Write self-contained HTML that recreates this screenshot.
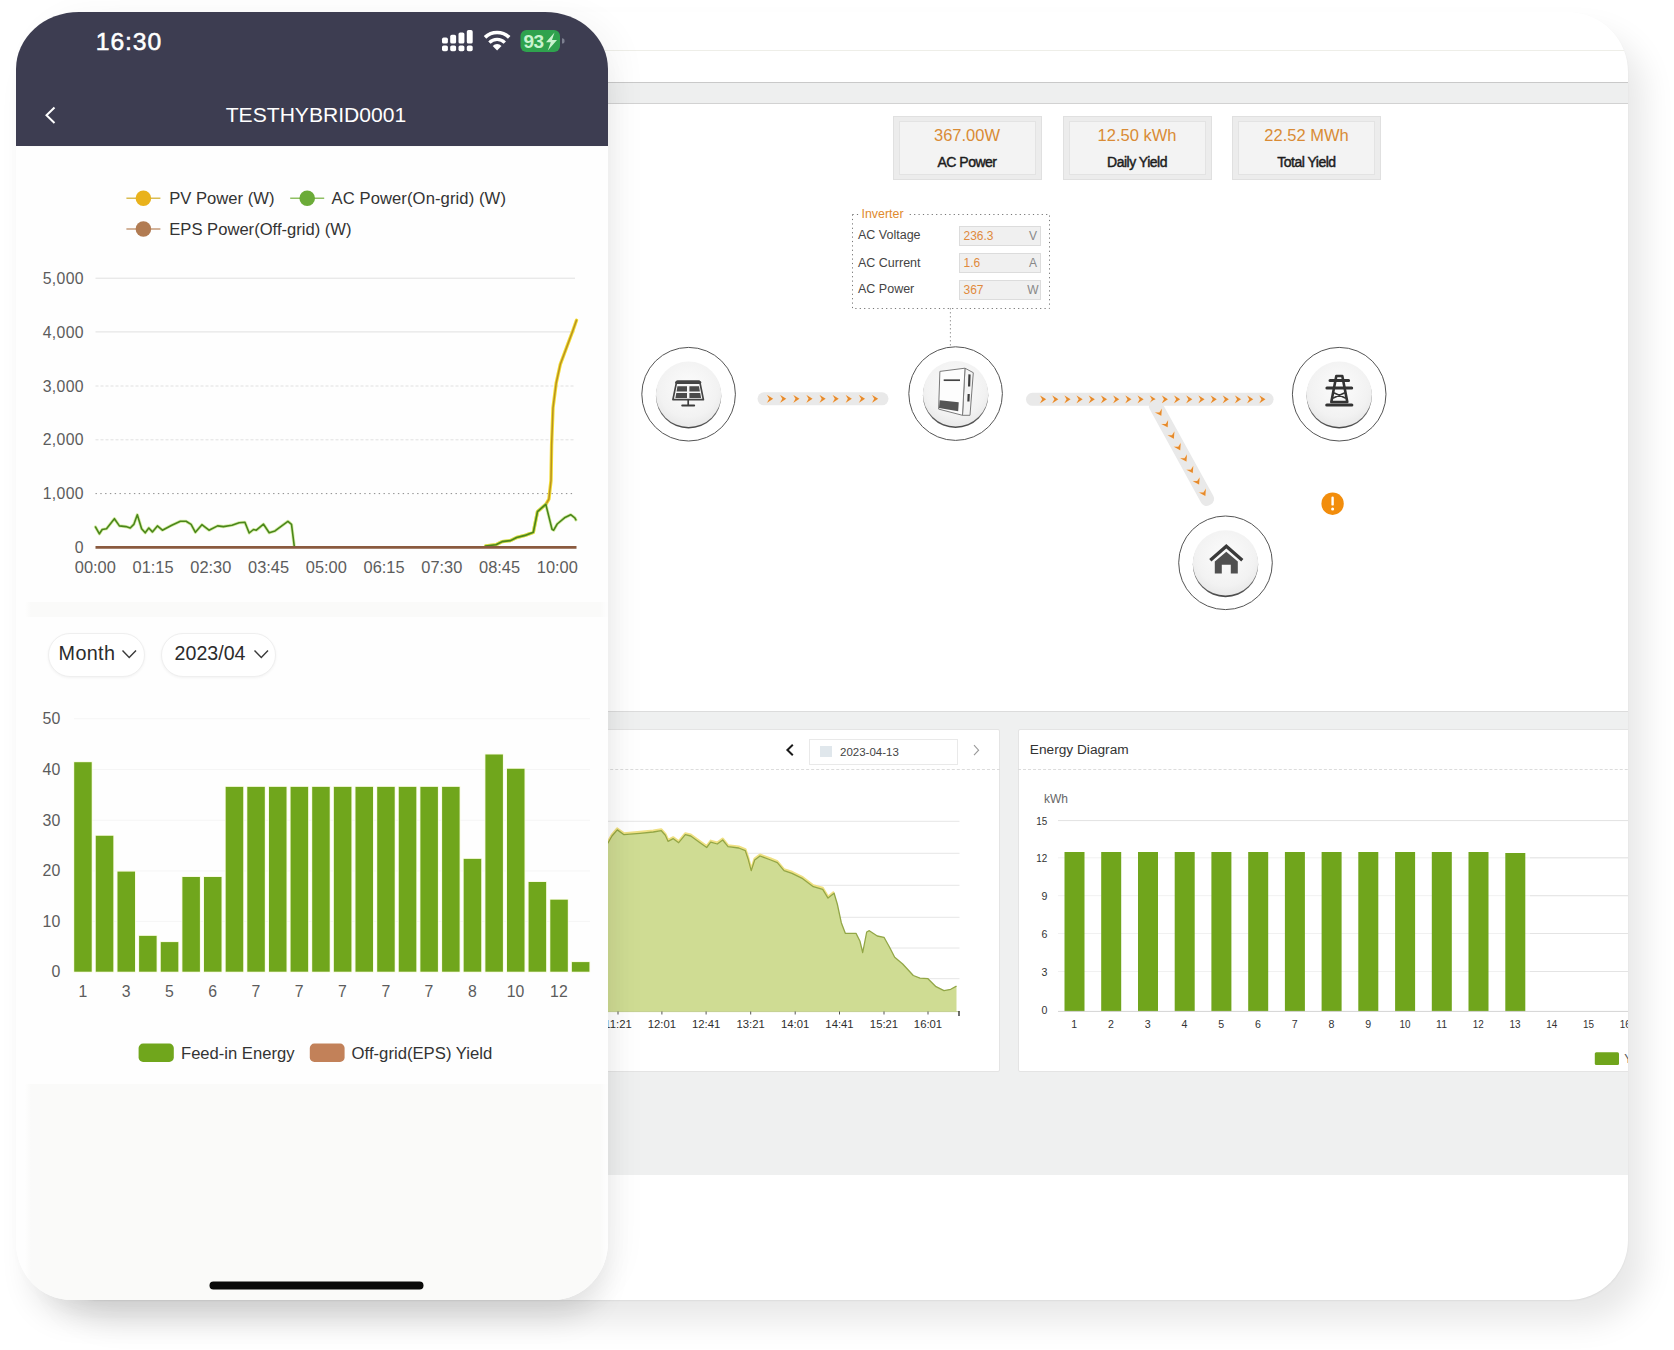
<!DOCTYPE html><html><head><meta charset="utf-8"><title>dashboard</title><style>
*{box-sizing:border-box;margin:0;padding:0}
html,body{width:1674px;height:1350px;background:#fff;overflow:hidden}
body{position:relative;font-family:"Liberation Sans",sans-serif;color:#333}
.abs{position:absolute}
.t{position:absolute;white-space:nowrap;line-height:1}
.desk{position:absolute;left:40px;top:12px;width:1588px;height:1288px;border-radius:60px;background:#fff;
 box-shadow:16px 22px 32px rgba(0,0,0,.095),0 1px 2px rgba(0,0,0,.06);overflow:hidden}
.phone{position:absolute;left:16px;top:12px;width:592px;height:1288px;border-radius:63px 63px 55px 55px / 57px 57px 58px 58px;background:linear-gradient(90deg,#fefefe 0,#fefefe 9px,#fafaf9 15px,#fafaf9 584px,#fdfdfd 590px);
 box-shadow:4px 28px 30px -10px rgba(0,0,0,.10),14px 0 30px rgba(0,0,0,.035);overflow:hidden}
.hdr{position:absolute;left:0;top:0;width:592px;height:134.4px;background:#3d3d51}
.card1{position:absolute;left:0;top:134.5px;width:592px;height:455px;background:#fefefe}
.card2{position:absolute;left:0;top:604.8px;width:592px;height:467.5px;background:#fefefe}
.pill{position:absolute;height:44px;border-radius:22px;background:#fff;border:1px solid #efefef;box-shadow:0 1px 3px rgba(0,0,0,.05)}
.stat{position:absolute;top:104px;width:149px;height:63.5px;background:#ececec;border:1px solid #e0e0e0}
.stat i{position:absolute;left:5px;top:4px;right:5px;bottom:4px;border:1px solid #e3e3e3;background:#f3f3f3}
.stat b{position:absolute;left:0;width:100%;text-align:center;font-weight:normal;line-height:1}
.stat b.v{top:10px;font-size:16.5px;color:#d98b35}
.stat b.l{top:38px;font-size:14px;color:#1c1c1c;font-weight:normal;letter-spacing:-.5px;-webkit-text-stroke:.45px #1c1c1c}
.vbox{position:absolute;width:82.6px;height:20.5px;background:#f0f0f0;border:1px solid #dcdcdc}
.panel{position:absolute;top:717.3px;height:343.2px;border-radius:2px;background:#fff;border:1px solid #e4e4e4}
</style></head><body><div class="desk"><div class="abs" style="left:0;top:37.5px;width:1588px;height:1px;background:#eeeee8"></div><div class="abs" style="left:0;top:70px;width:1588px;height:21.5px;background:#eeefef;border-top:1px solid #c9c9c9;border-bottom:1px solid #d2d2d2"></div><div class="stat" style="left:852.5px"><i></i><b class="v">367.00W</b><b class="l">AC Power</b></div><div class="stat" style="left:1022.5px"><i></i><b class="v">12.50 kWh</b><b class="l">Daily Yield</b></div><div class="stat" style="left:1192px"><i></i><b class="v">22.52 MWh</b><b class="l">Total Yield</b></div><svg class="abs" style="left:811.5px;top:201.5px" width="200" height="97"><rect x=".5" y=".5" width="197" height="94" fill="none" stroke="#777" stroke-width="1" stroke-dasharray="1.2 3.2"/></svg><div class="t" style="left:818.5px;top:196.3px;font-size:12.4px;color:#e08a2e;background:#fff;padding:0 3px">Inverter</div><div class="t" style="left:818px;top:217.2px;font-size:12.5px;color:#444">AC Voltage</div><div class="vbox" style="left:918.8px;top:213.5px"></div><div class="t" style="left:923.5px;top:217.7px;font-size:12px;color:#e08a3c">236.3</div><div class="t" style="left:986px;top:217.7px;font-size:12px;color:#888;width:14px;text-align:center">V</div><div class="t" style="left:818px;top:244.5px;font-size:12.5px;color:#444">AC Current</div><div class="vbox" style="left:918.8px;top:240.8px"></div><div class="t" style="left:923.5px;top:245px;font-size:12px;color:#e08a3c">1.6</div><div class="t" style="left:986px;top:245px;font-size:12px;color:#888;width:14px;text-align:center">A</div><div class="t" style="left:818px;top:271.2px;font-size:12.5px;color:#444">AC Power</div><div class="vbox" style="left:918.8px;top:267.5px"></div><div class="t" style="left:923.5px;top:271.7px;font-size:12px;color:#e08a3c">367</div><div class="t" style="left:986px;top:271.7px;font-size:12px;color:#888;width:14px;text-align:center">W</div><svg class="abs" style="left:580px;top:288px" width="1000" height="420" viewBox="620 300 1000 420"><defs>
<radialGradient id="btn" cx="50%" cy="40%" r="60%"><stop offset="0" stop-color="#fcfcfc"/><stop offset=".75" stop-color="#f2f2f2"/><stop offset="1" stop-color="#e9e9e9"/></radialGradient>
<linearGradient id="shade" x1="0" y1="0" x2="0" y2="1"><stop offset="0" stop-color="#bdbdbd"/><stop offset="1" stop-color="#4a4a4a"/></linearGradient>
<g id="chev"><path d="M-4.4 -4.6 L3.4 0 L-4.4 4.6 L-2 0 Z" fill="#fbe3c8"/><path d="M-3.4 -3.9 L2.6 0 L-3.4 3.9 L-1.3 0 Z" fill="#e58a2c"/></g>
</defs><line x1="950.4" y1="308" x2="950.4" y2="346" stroke="#9a9a9a" stroke-width="1" stroke-dasharray="1.5 2.5"/><rect x="757.5" y="392.3" width="131" height="13" rx="6.5" fill="#e9e9e9"/><use href="#chev" x="770.5" y="398.8"/><use href="#chev" x="783.6" y="398.8"/><use href="#chev" x="796.8" y="398.8"/><use href="#chev" x="809.9" y="398.8"/><use href="#chev" x="823" y="398.8"/><use href="#chev" x="836.1" y="398.8"/><use href="#chev" x="849.2" y="398.8"/><use href="#chev" x="862.4" y="398.8"/><use href="#chev" x="875.5" y="398.8"/><rect x="1026" y="392.8" width="247.6" height="13" rx="6.5" fill="#e9e9e9"/><use href="#chev" x="1043.5" y="399.3"/><use href="#chev" x="1055.7" y="399.3"/><use href="#chev" x="1067.9" y="399.3"/><use href="#chev" x="1080" y="399.3"/><use href="#chev" x="1092.2" y="399.3"/><use href="#chev" x="1104.4" y="399.3"/><use href="#chev" x="1116.6" y="399.3"/><use href="#chev" x="1128.8" y="399.3"/><use href="#chev" x="1141" y="399.3"/><use href="#chev" x="1153.2" y="399.3"/><use href="#chev" x="1165.3" y="399.3"/><use href="#chev" x="1177.5" y="399.3"/><use href="#chev" x="1189.7" y="399.3"/><use href="#chev" x="1201.9" y="399.3"/><use href="#chev" x="1214.1" y="399.3"/><use href="#chev" x="1226.2" y="399.3"/><use href="#chev" x="1238.4" y="399.3"/><use href="#chev" x="1250.6" y="399.3"/><use href="#chev" x="1262.8" y="399.3"/><g transform="translate(1154.8 404) rotate(61.2)"><rect x="-4" y="-7" width="118.9" height="14" rx="6" fill="#e9e9e9"/><use href="#chev" x="10.9" y="0"/><use href="#chev" x="24" y="0"/><use href="#chev" x="37" y="0"/><use href="#chev" x="50.1" y="0"/><use href="#chev" x="63.1" y="0"/><use href="#chev" x="76.2" y="0"/><use href="#chev" x="89.3" y="0"/><use href="#chev" x="102.3" y="0"/></g><circle cx="688.6" cy="394.2" r="46.8" fill="#fff" stroke="#555" stroke-width="1"/><circle cx="688.6" cy="395.9" r="32.7" fill="url(#shade)"/><circle cx="688.6" cy="394.3" r="32.7" fill="url(#btn)"/><circle cx="955.6" cy="393.6" r="46.8" fill="#fff" stroke="#555" stroke-width="1"/><circle cx="955.6" cy="395.3" r="32.7" fill="url(#shade)"/><circle cx="955.6" cy="393.7" r="32.7" fill="url(#btn)"/><circle cx="1339.2" cy="394.2" r="46.8" fill="#fff" stroke="#555" stroke-width="1"/><circle cx="1339.2" cy="395.9" r="32.7" fill="url(#shade)"/><circle cx="1339.2" cy="394.3" r="32.7" fill="url(#btn)"/><circle cx="1225.5" cy="562.8" r="46.8" fill="#fff" stroke="#555" stroke-width="1"/><circle cx="1225.5" cy="564.5" r="32.7" fill="url(#shade)"/><circle cx="1225.5" cy="562.9" r="32.7" fill="url(#btn)"/><g stroke-linejoin="round" stroke-linecap="round">
<path d="M676.6 381.9 Q676.9 381.2 677.8 381.2 H698.6 Q699.5 381.2 699.8 381.9 L703.4 399.6 H672.9 Z" fill="#f6f6f6" stroke="#444" stroke-width="1.7"/>
<path d="M676.4 382.6 H700" stroke="#444" stroke-width="2.6" fill="none"/>
<path d="M677.4 386.3 H687 V391.4 H676.6 Z M689.4 386.3 H699 L699.9 391.4 H689.4 Z M676.3 392.9 H687 V398.1 H675.4 Z M689.4 392.9 H700.2 L701.1 398.1 H689.4 Z" fill="#4a4a4a" stroke="none"/>
<path d="M688.2 399.8 V405" stroke="#3c3c3c" stroke-width="1.7" fill="none"/>
<path d="M682.2 405.5 H694.2" stroke="#3c3c3c" stroke-width="1.9" fill="none"/>
</g><g transform="translate(955.6 393.6)" stroke-linejoin="round">
<path d="M9.4 -25.4 L17.7 -20.9 L14.4 21.7 L6.9 21.7 Z" fill="#f4f4f4" stroke="#7a7a7a" stroke-width="1"/>
<path d="M-15.7 -22.2 L9.4 -25.4 L6.9 21.7 L-17 15.5 Z" fill="#fdfdfd" stroke="#7a7a7a" stroke-width="1"/>
<path d="M-15.9 6.7 L3.1 8.7 L2.6 17.6 L-16.6 14.4 Z" fill="#555"/>
<path d="M-11.9 -13.4 H4.4" stroke="#444" stroke-width="1.7"/>
<path d="M13.9 -19.2 L13.5 -7.1 M13.1 0.4 L12.8 7.9" stroke="#3c3c3c" stroke-width="2.2"/>
</g><g transform="translate(1339.3 391)" fill="none" stroke="#333" stroke-width="2.6" stroke-linejoin="round" stroke-linecap="round">
<path d="M-3 -15 H3 L8 11 H-8 Z"/>
<path d="M-9.3 -10.6 H9.3 M-12.4 -3 H12.4" stroke-width="3"/>
<path d="M-5 2 L6 7 M5 2 L-6 7" stroke-width="1.6"/>
<path d="M-12.5 14 H12.5" stroke-width="3.2"/>
</g><g transform="translate(1226.3 560)">
<path d="M-16 0.3 L0 -13.8 L16 0.3" fill="none" stroke="#3a3a3a" stroke-width="3.3" stroke-linejoin="miter"/>
<path d="M-11.5 1.6 L0 -8.2 L11.5 1.6 V13.5 H4.5 V4.8 H-4.5 V13.5 H-11.5 Z" fill="#505050"/>
</g><circle cx="1332.6" cy="503.7" r="11.2" fill="#f28d0c"/><rect x="1331.4" y="496.6" width="2.4" height="9" rx="1.2" fill="#fff"/><circle cx="1332.6" cy="509" r="1.5" fill="#fff"/></svg><div class="abs" style="left:0;top:699px;width:1588px;height:464px;background:#eff0f0;border-top:1px solid #dcdcdc"></div><div class="panel" style="left:520px;width:439.5px"></div><div class="panel" style="left:978px;width:700px"></div><div class="abs" style="left:520px;top:757.3px;width:439.5px;border-top:1px dashed #dcdcdc"></div><div class="abs" style="left:978px;top:757.3px;width:700px;border-top:1px dashed #dcdcdc"></div><div class="t" style="left:989.8px;top:731px;font-size:13.7px;color:#333">Energy Diagram</div><div class="abs" style="left:769.3px;top:726.7px;width:148.6px;height:26.6px;border:1px solid #e9e9e9;background:#fff"></div><div class="abs" style="left:780.2px;top:734.2px;width:11.5px;height:10.8px;background:#e0e7ec"></div><div class="t" style="left:800px;top:734.6px;font-size:11.5px;color:#444">2023-04-13</div><svg class="abs" style="left:560px;top:708px" width="1100" height="380" viewBox="600 720 1100 380" font-family="Liberation Sans, sans-serif"><path d="M792.8 744.7 L787.4 750 L792.8 755.3" stroke="#1a1a1a" stroke-width="2" fill="none"/><path d="M974 745.2 L978.6 750.2 L974 755.2" stroke="#999" stroke-width="1.1" fill="none"/><line x1="600" y1="821.3" x2="959.5" y2="821.3" stroke="#e6e6e6" stroke-width="1"/><line x1="600" y1="853.3" x2="959.5" y2="853.3" stroke="#e6e6e6" stroke-width="1"/><line x1="600" y1="885.3" x2="959.5" y2="885.3" stroke="#e6e6e6" stroke-width="1"/><line x1="600" y1="917.3" x2="959.5" y2="917.3" stroke="#e6e6e6" stroke-width="1"/><line x1="600" y1="948" x2="959.5" y2="948" stroke="#e6e6e6" stroke-width="1"/><line x1="600" y1="978.7" x2="959.5" y2="978.7" stroke="#e6e6e6" stroke-width="1"/><polygon points="600,846 608,843 612,836 617.3,829.9 624,834.7 640,833.3 653.3,832 661.3,830.7 665.3,835.2 668,841.3 673.3,838.7 678.7,842.7 685.3,834.7 690.7,836 700,842.7 706.7,847.5 710.7,842.1 717.3,844 722.7,840 728,846.7 738.7,848 745.3,850.7 748,858.7 751.2,870.7 754.7,860 760,856 770.7,860 777.3,862.7 784,870.7 792,873.3 802.7,878.7 813.3,886.7 822.7,889.3 828,898.1 834.1,893.3 837.3,904 841.3,922.7 845.3,933.3 856,933.3 860,941.3 862.7,952.5 866.7,932 869.3,930.7 877.3,936 884,937.3 889.3,946.7 894.7,957.3 902.7,964 913.3,975.5 920,978.1 928,978.7 936,986.7 944,990.7 950.7,989.3 956.5,986.1 956.5,1011.4 600,1011.4" fill="#cfdc93"/><polyline points="600,844.8 608,841.8 612,834.8 617.3,828.7 624,833.5 640,832.1 653.3,830.8 661.3,829.5 665.3,834 668,840.1 673.3,837.5 678.7,841.5 685.3,833.5 690.7,834.8 700,841.5 706.7,846.3 710.7,840.9 717.3,842.8 722.7,838.8 728,845.5 738.7,846.8 745.3,849.5 748,857.5 751.2,869.5 754.7,858.8 760,854.8 770.7,858.8 777.3,861.5 784,869.5 792,872.1 802.7,877.5 813.3,885.5 822.7,888.1 828,896.9 834.1,892.1" fill="none" stroke="#f0e184" stroke-width="2.6" stroke-linejoin="round"/><polyline points="600,846 608,843 612,836 617.3,829.9 624,834.7 640,833.3 653.3,832 661.3,830.7 665.3,835.2 668,841.3 673.3,838.7 678.7,842.7 685.3,834.7 690.7,836 700,842.7 706.7,847.5 710.7,842.1 717.3,844 722.7,840 728,846.7 738.7,848 745.3,850.7 748,858.7 751.2,870.7 754.7,860 760,856 770.7,860 777.3,862.7 784,870.7 792,873.3 802.7,878.7 813.3,886.7 822.7,889.3 828,898.1 834.1,893.3 837.3,904 841.3,922.7 845.3,933.3 856,933.3 860,941.3 862.7,952.5 866.7,932 869.3,930.7 877.3,936 884,937.3 889.3,946.7 894.7,957.3 902.7,964 913.3,975.5 920,978.1 928,978.7 936,986.7 944,990.7 950.7,989.3 956.5,986.1" fill="none" stroke="#92a646" stroke-width="1.3" stroke-linejoin="round"/><line x1="600" y1="1011.6" x2="959.5" y2="1011.6" stroke="#c3cf8f" stroke-width="1"/><line x1="959" y1="1011" x2="959" y2="1016" stroke="#333" stroke-width="1.4"/><text x="618" y="1028" font-size="11.3" fill="#2e2e2e" text-anchor="middle">11:21</text><line x1="618" y1="1011.5" x2="618" y2="1014.5" stroke="#555" stroke-width="1"/><text x="661.9" y="1028" font-size="11.3" fill="#2e2e2e" text-anchor="middle">12:01</text><line x1="661.9" y1="1011.5" x2="661.9" y2="1014.5" stroke="#555" stroke-width="1"/><text x="706.1" y="1028" font-size="11.3" fill="#2e2e2e" text-anchor="middle">12:41</text><line x1="706.1" y1="1011.5" x2="706.1" y2="1014.5" stroke="#555" stroke-width="1"/><text x="750.7" y="1028" font-size="11.3" fill="#2e2e2e" text-anchor="middle">13:21</text><line x1="750.7" y1="1011.5" x2="750.7" y2="1014.5" stroke="#555" stroke-width="1"/><text x="795.2" y="1028" font-size="11.3" fill="#2e2e2e" text-anchor="middle">14:01</text><line x1="795.2" y1="1011.5" x2="795.2" y2="1014.5" stroke="#555" stroke-width="1"/><text x="839.5" y="1028" font-size="11.3" fill="#2e2e2e" text-anchor="middle">14:41</text><line x1="839.5" y1="1011.5" x2="839.5" y2="1014.5" stroke="#555" stroke-width="1"/><text x="884" y="1028" font-size="11.3" fill="#2e2e2e" text-anchor="middle">15:21</text><line x1="884" y1="1011.5" x2="884" y2="1014.5" stroke="#555" stroke-width="1"/><text x="928" y="1028" font-size="11.3" fill="#2e2e2e" text-anchor="middle">16:01</text><line x1="928" y1="1011.5" x2="928" y2="1014.5" stroke="#555" stroke-width="1"/><text x="1044" y="803.3" font-size="12" fill="#666">kWh</text><line x1="1058" y1="820.6" x2="1700" y2="820.6" stroke="#e2e2e2" stroke-width="1"/><text x="1047.3" y="824.8" font-size="11.8" fill="#333" text-anchor="end" textLength="11" lengthAdjust="spacingAndGlyphs">15</text><line x1="1058" y1="857.8" x2="1700" y2="857.8" stroke="#f1f1f1" stroke-width="1"/><line x1="1530" y1="857.8" x2="1700" y2="857.8" stroke="#e4e4e4" stroke-width="1"/><text x="1047.3" y="862" font-size="11.8" fill="#333" text-anchor="end" textLength="11" lengthAdjust="spacingAndGlyphs">12</text><line x1="1058" y1="895.7" x2="1700" y2="895.7" stroke="#f1f1f1" stroke-width="1"/><line x1="1530" y1="895.7" x2="1700" y2="895.7" stroke="#e4e4e4" stroke-width="1"/><text x="1047.3" y="899.9" font-size="11.8" fill="#333" text-anchor="end" textLength="5.9" lengthAdjust="spacingAndGlyphs">9</text><line x1="1058" y1="933.5" x2="1700" y2="933.5" stroke="#f1f1f1" stroke-width="1"/><line x1="1530" y1="933.5" x2="1700" y2="933.5" stroke="#e4e4e4" stroke-width="1"/><text x="1047.3" y="937.7" font-size="11.8" fill="#333" text-anchor="end" textLength="5.9" lengthAdjust="spacingAndGlyphs">6</text><line x1="1058" y1="971.5" x2="1700" y2="971.5" stroke="#f1f1f1" stroke-width="1"/><line x1="1530" y1="971.5" x2="1700" y2="971.5" stroke="#e4e4e4" stroke-width="1"/><text x="1047.3" y="975.7" font-size="11.8" fill="#333" text-anchor="end" textLength="5.9" lengthAdjust="spacingAndGlyphs">3</text><text x="1047.3" y="1014.1" font-size="11.8" fill="#333" text-anchor="end" textLength="5.9" lengthAdjust="spacingAndGlyphs">0</text><rect x="1064.5" y="852" width="20" height="159.5" fill="#70a51c"/><rect x="1101.2" y="852" width="20" height="159.5" fill="#70a51c"/><rect x="1138" y="852" width="20" height="159.5" fill="#70a51c"/><rect x="1174.7" y="852" width="20" height="159.5" fill="#70a51c"/><rect x="1211.4" y="852" width="20" height="159.5" fill="#70a51c"/><rect x="1248.2" y="852" width="20" height="159.5" fill="#70a51c"/><rect x="1284.9" y="852" width="20" height="159.5" fill="#70a51c"/><rect x="1321.6" y="852" width="20" height="159.5" fill="#70a51c"/><rect x="1358.3" y="852" width="20" height="159.5" fill="#70a51c"/><rect x="1395.1" y="852" width="20" height="159.5" fill="#70a51c"/><rect x="1431.8" y="852" width="20" height="159.5" fill="#70a51c"/><rect x="1468.5" y="852" width="20" height="159.5" fill="#70a51c"/><rect x="1505.3" y="853" width="20" height="158.5" fill="#70a51c"/><text x="1074.3" y="1028.2" font-size="11.8" fill="#333" text-anchor="middle" textLength="5.9" lengthAdjust="spacingAndGlyphs">1</text><text x="1111" y="1028.2" font-size="11.8" fill="#333" text-anchor="middle" textLength="5.9" lengthAdjust="spacingAndGlyphs">2</text><text x="1147.8" y="1028.2" font-size="11.8" fill="#333" text-anchor="middle" textLength="5.9" lengthAdjust="spacingAndGlyphs">3</text><text x="1184.5" y="1028.2" font-size="11.8" fill="#333" text-anchor="middle" textLength="5.9" lengthAdjust="spacingAndGlyphs">4</text><text x="1221.2" y="1028.2" font-size="11.8" fill="#333" text-anchor="middle" textLength="5.9" lengthAdjust="spacingAndGlyphs">5</text><text x="1257.9" y="1028.2" font-size="11.8" fill="#333" text-anchor="middle" textLength="5.9" lengthAdjust="spacingAndGlyphs">6</text><text x="1294.7" y="1028.2" font-size="11.8" fill="#333" text-anchor="middle" textLength="5.9" lengthAdjust="spacingAndGlyphs">7</text><text x="1331.4" y="1028.2" font-size="11.8" fill="#333" text-anchor="middle" textLength="5.9" lengthAdjust="spacingAndGlyphs">8</text><text x="1368.1" y="1028.2" font-size="11.8" fill="#333" text-anchor="middle" textLength="5.9" lengthAdjust="spacingAndGlyphs">9</text><text x="1404.9" y="1028.2" font-size="11.8" fill="#333" text-anchor="middle" textLength="11" lengthAdjust="spacingAndGlyphs">10</text><text x="1441.6" y="1028.2" font-size="11.8" fill="#333" text-anchor="middle" textLength="11" lengthAdjust="spacingAndGlyphs">11</text><text x="1478.3" y="1028.2" font-size="11.8" fill="#333" text-anchor="middle" textLength="11" lengthAdjust="spacingAndGlyphs">12</text><text x="1515.1" y="1028.2" font-size="11.8" fill="#333" text-anchor="middle" textLength="11" lengthAdjust="spacingAndGlyphs">13</text><text x="1551.8" y="1028.2" font-size="11.8" fill="#333" text-anchor="middle" textLength="11" lengthAdjust="spacingAndGlyphs">14</text><text x="1588.5" y="1028.2" font-size="11.8" fill="#333" text-anchor="middle" textLength="11" lengthAdjust="spacingAndGlyphs">15</text><text x="1625.2" y="1028.2" font-size="11.8" fill="#333" text-anchor="middle" textLength="11" lengthAdjust="spacingAndGlyphs">16</text><line x1="1058" y1="1011.4" x2="1700" y2="1011.4" stroke="#d4d4d4" stroke-width="1"/><rect x="1594.8" y="1052.3" width="24.2" height="12.8" rx="1.5" fill="#70a51c"/><text x="1624.3" y="1063" font-size="12" fill="#555">Yield</text></svg></div><div class="phone"><div class="hdr"></div><div class="card1"></div><div class="card2"></div><div class="t" style="left:79.8px;top:17.9px;font-size:24.7px;color:#fff;letter-spacing:.9px;-webkit-text-stroke:.55px #fff">16:30</div><div class="t" style="left:0;top:91.7px;width:592px;text-align:center;font-size:21.1px;color:#fff;padding-left:8px">TESTHYBRID0001</div><div class="pill" style="left:32px;top:620.5px;width:97px"></div><div class="pill" style="left:145px;top:620.5px;width:115px"></div><svg class="abs" style="left:0;top:0" width="592" height="1288" viewBox="16 12 592 1288" font-family="Liberation Sans, sans-serif"><path d="M54.5 107.5 L46.5 115.3 L54.5 123" fill="none" stroke="#fff" stroke-width="2"/><rect x="442" y="45.4" width="5.9" height="5.8" rx="1.7" fill="#fff"/><rect x="442" y="37.6" width="5.9" height="6" rx="1.7" fill="#fff"/><rect x="450.2" y="45.4" width="5.9" height="5.8" rx="1.7" fill="#fff"/><rect x="450.2" y="34.8" width="5.9" height="8.8" rx="1.7" fill="#fff"/><rect x="458.5" y="45.4" width="5.9" height="5.8" rx="1.7" fill="#fff"/><rect x="458.5" y="32.4" width="5.9" height="11.2" rx="1.7" fill="#fff"/><rect x="466.8" y="45.4" width="5.9" height="5.8" rx="1.7" fill="#fff"/><rect x="466.8" y="30" width="5.9" height="13.6" rx="1.7" fill="#fff"/><g fill="none" stroke="#fff" stroke-linecap="butt"><path d="M485 37.4 A17.4 17.4 0 0 1 509.2 37.4" stroke-width="3.6"/><path d="M489.4 42.6 A10.8 10.8 0 0 1 504.8 42.6" stroke-width="3.3"/></g><path d="M497.1 50.4 L492.7 45.9 A6.2 6.2 0 0 1 501.5 45.9 Z" fill="#fff"/><rect x="520.5" y="30" width="39.5" height="22" rx="6" fill="#2fa24e"/><path d="M562 38.3 a2.6 2.6 0 0 1 0 5.2 Z" fill="#7d8090"/><text x="523.6" y="48" font-size="19" font-weight="bold" fill="#c9f3cf" letter-spacing="-.6">93</text><path d="M554.5 32.5 L546 42.3 H550.8 L547.8 50.5 L557 40 H552 Z" fill="#c9f3cf"/><line x1="126.4" y1="198.2" x2="160.4" y2="198.2" stroke="#d9bc52" stroke-width="1.4"/><circle cx="143.4" cy="198.2" r="7.8" fill="#e9b21c"/><line x1="290.2" y1="198.2" x2="324.2" y2="198.2" stroke="#8fbf63" stroke-width="1.4"/><circle cx="307.2" cy="198.2" r="7.8" fill="#6bab38"/><line x1="126.4" y1="229" x2="160.4" y2="229" stroke="#c49a78" stroke-width="1.4"/><circle cx="143.4" cy="229" r="7.8" fill="#b17b52"/><text x="169.3" y="204" font-size="16.6" fill="#333">PV Power (W)</text><text x="331.5" y="204" font-size="16.6" fill="#333" letter-spacing=".1">AC Power(On-grid) (W)</text><text x="169.3" y="234.8" font-size="16.6" fill="#333">EPS Power(Off-grid) (W)</text><text x="84" y="283.8" font-size="15.8" fill="#5c5c5c" text-anchor="end" letter-spacing=".35">5,000</text><line x1="95.5" y1="278.2" x2="575" y2="278.2" stroke="#e0e0e0" stroke-width="1"/><text x="84" y="337.5" font-size="15.8" fill="#5c5c5c" text-anchor="end" letter-spacing=".35">4,000</text><line x1="95.5" y1="331.9" x2="575" y2="331.9" stroke="#e0e0e0" stroke-width="1"/><text x="84" y="391.6" font-size="15.8" fill="#5c5c5c" text-anchor="end" letter-spacing=".35">3,000</text><line x1="95.5" y1="386" x2="575" y2="386" stroke="#e0e0e0" stroke-width="1" stroke-dasharray="3 2"/><text x="84" y="445.4" font-size="15.8" fill="#5c5c5c" text-anchor="end" letter-spacing=".35">2,000</text><line x1="95.5" y1="439.8" x2="575" y2="439.8" stroke="#e0e0e0" stroke-width="1" stroke-dasharray="3 2"/><text x="84" y="499.2" font-size="15.8" fill="#5c5c5c" text-anchor="end" letter-spacing=".35">1,000</text><line x1="95.5" y1="493.6" x2="575" y2="493.6" stroke="#8c8c8c" stroke-width="1" stroke-dasharray="1.4 3.4"/><text x="84" y="553" font-size="15.8" fill="#5c5c5c" text-anchor="end" letter-spacing=".35">0</text><text x="95.3" y="573.1" font-size="16.4" fill="#5c5c5c" text-anchor="middle">00:00</text><text x="153.1" y="573.1" font-size="16.4" fill="#5c5c5c" text-anchor="middle">01:15</text><text x="210.8" y="573.1" font-size="16.4" fill="#5c5c5c" text-anchor="middle">02:30</text><text x="268.6" y="573.1" font-size="16.4" fill="#5c5c5c" text-anchor="middle">03:45</text><text x="326.3" y="573.1" font-size="16.4" fill="#5c5c5c" text-anchor="middle">05:00</text><text x="384.1" y="573.1" font-size="16.4" fill="#5c5c5c" text-anchor="middle">06:15</text><text x="441.8" y="573.1" font-size="16.4" fill="#5c5c5c" text-anchor="middle">07:30</text><text x="499.6" y="573.1" font-size="16.4" fill="#5c5c5c" text-anchor="middle">08:45</text><text x="557.3" y="573.1" font-size="16.4" fill="#5c5c5c" text-anchor="middle">10:00</text><polyline points="95.5,527 99.4,533.8 102.2,529.5 106.5,528.7 114.4,518.7 119.4,525.9 125.9,526.6 130.2,528 133.8,524.4 137.3,514.7 141.6,528.7 145.2,532.8 148.8,528 152.4,531.9 157.4,525.9 162.4,530.2 171.8,525.2 180.4,521.3 186.1,521.3 191.1,524.4 195.4,532.3 201.9,524.7 209,530.2 217.6,525.9 223.4,526.6 232,525.2 239.1,522.7 244.9,522.3 249.2,533 253.5,529.5 256.3,530.2 263.5,524.2 269.2,532.8 275,530.9 287.9,521.3 291.5,524.4 294.3,546.5" fill="none" stroke="#b6e060" stroke-width="3.2" stroke-linejoin="round" stroke-linecap="round" opacity=".55"/><polyline points="95.5,527 99.4,533.8 102.2,529.5 106.5,528.7 114.4,518.7 119.4,525.9 125.9,526.6 130.2,528 133.8,524.4 137.3,514.7 141.6,528.7 145.2,532.8 148.8,528 152.4,531.9 157.4,525.9 162.4,530.2 171.8,525.2 180.4,521.3 186.1,521.3 191.1,524.4 195.4,532.3 201.9,524.7 209,530.2 217.6,525.9 223.4,526.6 232,525.2 239.1,522.7 244.9,522.3 249.2,533 253.5,529.5 256.3,530.2 263.5,524.2 269.2,532.8 275,530.9 287.9,521.3 291.5,524.4 294.3,546.5" fill="none" stroke="#4a861a" stroke-width="1.6" stroke-linejoin="round" stroke-linecap="round"/><polyline points="485.6,546 496,544.8 502.2,541.6 510.5,540.6 516.7,537.5 525,535.4 533.3,532.3 537.5,511.6 545.8,504.3 548.9,499.1 551,480.5 551.6,445.2 553,407.9 556.2,383 560.3,364.3 566.5,347.7 572.7,331.1 576.5,320.3" fill="none" stroke="#f2dc32" stroke-width="3.4" stroke-linejoin="round" stroke-linecap="round"/><polyline points="485.6,546 496,544.8 502.2,541.6 510.5,540.6 516.7,537.5 525,535.4 533.3,532.3 537.5,511.6 545.8,504.3 548.9,499.1 551,480.5 551.6,445.2 553,407.9 556.2,383 560.3,364.3 566.5,347.7 572.7,331.1 576.5,320.3" fill="none" stroke="#b9921f" stroke-width="1.5" stroke-linejoin="round" stroke-linecap="round"/><polyline points="485.6,546 496,544.8 502.2,541.6 510.5,540.6 516.7,537.5 525,535.4 533.3,532.3 537.5,511.6 545.8,504.3 552,529.2 553.7,530.2 557.2,524 564.5,517.8 570.7,514.7 574.8,517.8 575.9,519.9" fill="none" stroke="#b6e060" stroke-width="3.2" stroke-linejoin="round" stroke-linecap="round" opacity=".55"/><polyline points="485.6,546 496,544.8 502.2,541.6 510.5,540.6 516.7,537.5 525,535.4 533.3,532.3 537.5,511.6 545.8,504.3 552,529.2 553.7,530.2 557.2,524 564.5,517.8 570.7,514.7 574.8,517.8 575.9,519.9" fill="none" stroke="#4a861a" stroke-width="1.6" stroke-linejoin="round" stroke-linecap="round"/><line x1="95.5" y1="547.3" x2="576.5" y2="547.3" stroke="#8a5a3f" stroke-width="2.7"/><text x="58.6" y="659.8" font-size="19.8" fill="#2c2c2c" letter-spacing=".35">Month</text><path d="M122.5 650.4 L129.2 657.6 L136 650.4" fill="none" stroke="#3a3a3a" stroke-width="1.4"/><text x="174.6" y="659.8" font-size="19.6" fill="#2c2c2c">2023/04</text><path d="M254.5 650.4 L261.3 657.6 L268 650.4" fill="none" stroke="#3a3a3a" stroke-width="1.4"/><text x="60.3" y="724.2" font-size="15.9" fill="#5c5c5c" text-anchor="end">50</text><line x1="74" y1="718.7" x2="590" y2="718.7" stroke="#f5f5f5" stroke-width="1"/><text x="60.3" y="775" font-size="15.9" fill="#5c5c5c" text-anchor="end">40</text><line x1="74" y1="769.5" x2="590" y2="769.5" stroke="#f5f5f5" stroke-width="1"/><text x="60.3" y="825.8" font-size="15.9" fill="#5c5c5c" text-anchor="end">30</text><line x1="74" y1="820.3" x2="590" y2="820.3" stroke="#f5f5f5" stroke-width="1"/><text x="60.3" y="876.4" font-size="15.9" fill="#5c5c5c" text-anchor="end">20</text><line x1="74" y1="870.9" x2="590" y2="870.9" stroke="#f5f5f5" stroke-width="1"/><text x="60.3" y="926.9" font-size="15.9" fill="#5c5c5c" text-anchor="end">10</text><line x1="74" y1="921.4" x2="590" y2="921.4" stroke="#f5f5f5" stroke-width="1"/><text x="60.3" y="977.3" font-size="15.9" fill="#5c5c5c" text-anchor="end">0</text><rect x="74.2" y="762.2" width="17.5" height="209.5" fill="#70a61c" stroke="#f7fbdc" stroke-width="1.6" paint-order="stroke"/><rect x="95.8" y="835.8" width="17.5" height="135.9" fill="#70a61c" stroke="#f7fbdc" stroke-width="1.6" paint-order="stroke"/><rect x="117.5" y="871.6" width="17.5" height="100.1" fill="#70a61c" stroke="#f7fbdc" stroke-width="1.6" paint-order="stroke"/><rect x="139.1" y="935.9" width="17.5" height="35.8" fill="#70a61c" stroke="#f7fbdc" stroke-width="1.6" paint-order="stroke"/><rect x="160.8" y="942.1" width="17.5" height="29.6" fill="#70a61c" stroke="#f7fbdc" stroke-width="1.6" paint-order="stroke"/><rect x="182.4" y="877" width="17.5" height="94.7" fill="#70a61c" stroke="#f7fbdc" stroke-width="1.6" paint-order="stroke"/><rect x="204" y="877" width="17.5" height="94.7" fill="#70a61c" stroke="#f7fbdc" stroke-width="1.6" paint-order="stroke"/><rect x="225.7" y="786.9" width="17.5" height="184.8" fill="#70a61c" stroke="#f7fbdc" stroke-width="1.6" paint-order="stroke"/><rect x="247.3" y="786.9" width="17.5" height="184.8" fill="#70a61c" stroke="#f7fbdc" stroke-width="1.6" paint-order="stroke"/><rect x="269" y="786.9" width="17.5" height="184.8" fill="#70a61c" stroke="#f7fbdc" stroke-width="1.6" paint-order="stroke"/><rect x="290.6" y="786.9" width="17.5" height="184.8" fill="#70a61c" stroke="#f7fbdc" stroke-width="1.6" paint-order="stroke"/><rect x="312.2" y="786.9" width="17.5" height="184.8" fill="#70a61c" stroke="#f7fbdc" stroke-width="1.6" paint-order="stroke"/><rect x="333.9" y="786.9" width="17.5" height="184.8" fill="#70a61c" stroke="#f7fbdc" stroke-width="1.6" paint-order="stroke"/><rect x="355.5" y="786.9" width="17.5" height="184.8" fill="#70a61c" stroke="#f7fbdc" stroke-width="1.6" paint-order="stroke"/><rect x="377.2" y="786.9" width="17.5" height="184.8" fill="#70a61c" stroke="#f7fbdc" stroke-width="1.6" paint-order="stroke"/><rect x="398.8" y="786.9" width="17.5" height="184.8" fill="#70a61c" stroke="#f7fbdc" stroke-width="1.6" paint-order="stroke"/><rect x="420.4" y="786.9" width="17.5" height="184.8" fill="#70a61c" stroke="#f7fbdc" stroke-width="1.6" paint-order="stroke"/><rect x="442.1" y="786.9" width="17.5" height="184.8" fill="#70a61c" stroke="#f7fbdc" stroke-width="1.6" paint-order="stroke"/><rect x="463.7" y="858.9" width="17.5" height="112.8" fill="#70a61c" stroke="#f7fbdc" stroke-width="1.6" paint-order="stroke"/><rect x="485.4" y="754.5" width="17.5" height="217.2" fill="#70a61c" stroke="#f7fbdc" stroke-width="1.6" paint-order="stroke"/><rect x="507" y="768.8" width="17.5" height="202.9" fill="#70a61c" stroke="#f7fbdc" stroke-width="1.6" paint-order="stroke"/><rect x="528.6" y="882" width="17.5" height="89.7" fill="#70a61c" stroke="#f7fbdc" stroke-width="1.6" paint-order="stroke"/><rect x="550.3" y="899.7" width="17.5" height="72" fill="#70a61c" stroke="#f7fbdc" stroke-width="1.6" paint-order="stroke"/><rect x="571.9" y="962.1" width="17.5" height="9.6" fill="#70a61c" stroke="#f7fbdc" stroke-width="1.6" paint-order="stroke"/><text x="82.8" y="996.8" font-size="15.8" fill="#5c5c5c" text-anchor="middle">1</text><text x="126.1" y="996.8" font-size="15.8" fill="#5c5c5c" text-anchor="middle">3</text><text x="169.4" y="996.8" font-size="15.8" fill="#5c5c5c" text-anchor="middle">5</text><text x="212.6" y="996.8" font-size="15.8" fill="#5c5c5c" text-anchor="middle">6</text><text x="255.9" y="996.8" font-size="15.8" fill="#5c5c5c" text-anchor="middle">7</text><text x="299.2" y="996.8" font-size="15.8" fill="#5c5c5c" text-anchor="middle">7</text><text x="342.5" y="996.8" font-size="15.8" fill="#5c5c5c" text-anchor="middle">7</text><text x="385.8" y="996.8" font-size="15.8" fill="#5c5c5c" text-anchor="middle">7</text><text x="429" y="996.8" font-size="15.8" fill="#5c5c5c" text-anchor="middle">7</text><text x="472.3" y="996.8" font-size="15.8" fill="#5c5c5c" text-anchor="middle">8</text><text x="515.6" y="996.8" font-size="15.8" fill="#5c5c5c" text-anchor="middle">10</text><text x="558.9" y="996.8" font-size="15.8" fill="#5c5c5c" text-anchor="middle">12</text><rect x="138.6" y="1043.6" width="35.2" height="18.3" rx="4.5" fill="#70a61c"/><text x="181" y="1058.6" font-size="16.6" fill="#333">Feed-in Energy</text><rect x="309.8" y="1043.6" width="34.8" height="18.3" rx="4.5" fill="#c28159"/><text x="351.6" y="1058.6" font-size="16.7" fill="#333">Off-grid(EPS) Yield</text><rect x="209.5" y="1281.5" width="214" height="8" rx="4" fill="#0a0a0a"/></svg></div></body></html>
